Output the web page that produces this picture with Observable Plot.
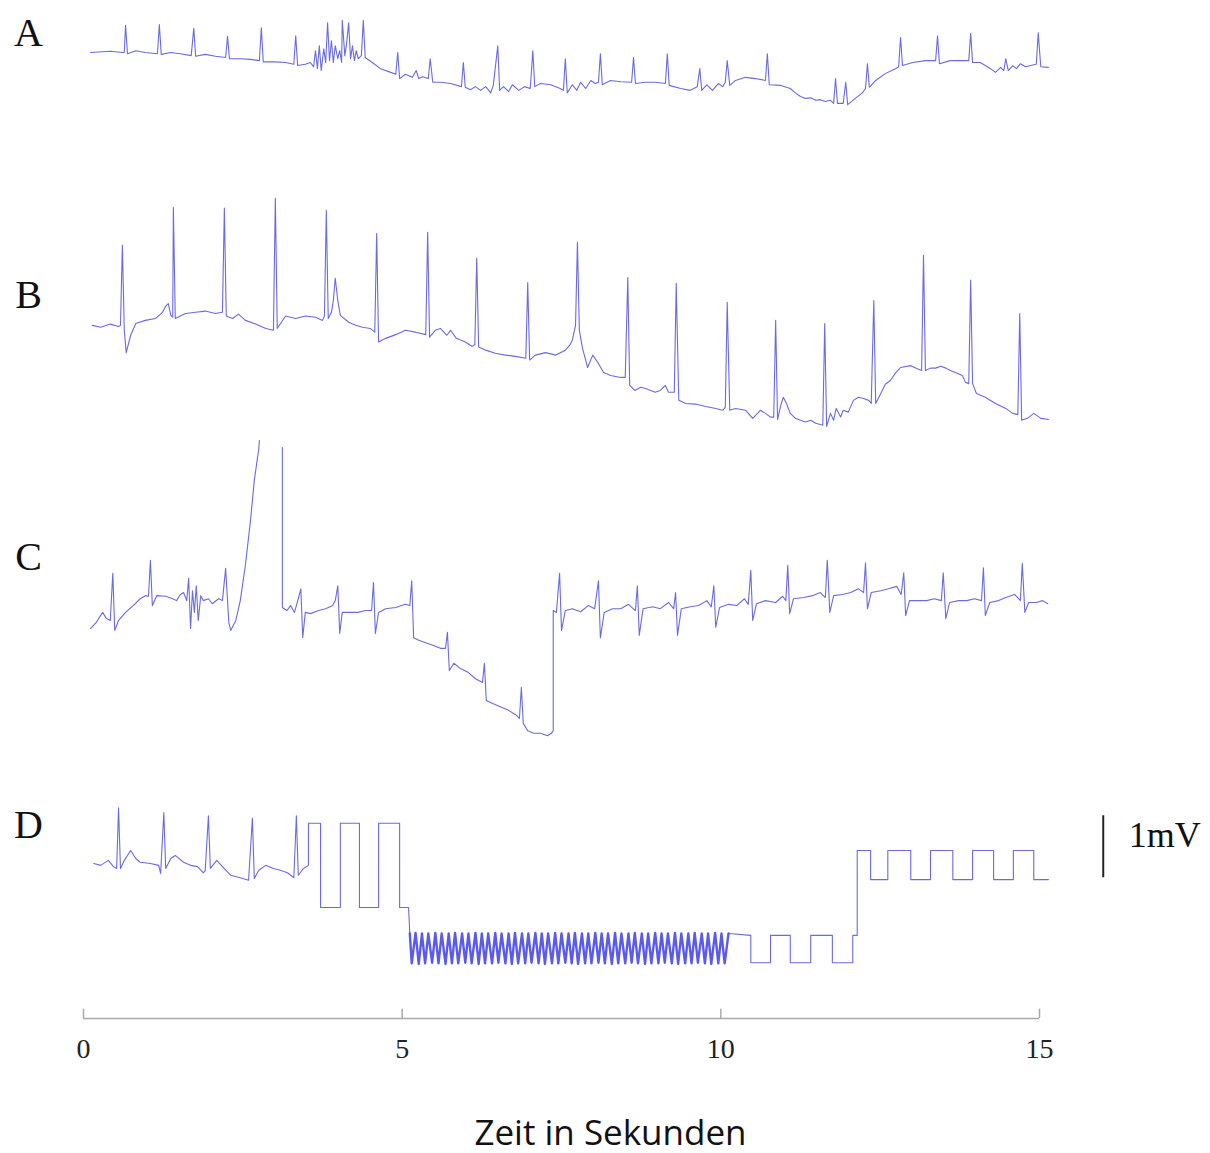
<!DOCTYPE html>
<html><head><meta charset="utf-8">
<script src="https://cdn.jsdelivr.net/npm/d3@7"></script>
<script src="https://cdn.jsdelivr.net/npm/@observablehq/plot@0.6"></script>
<style>html,body{margin:0;padding:0;background:#fff}</style>
</head><body><div id="chart"></div>
<script>
// ---- data (time in seconds, voltage in mV relative to each trace's own baseline) ----
const panels = ["A", "B", "C", "D"];
const xTicks = [0, 5, 10, 15];
const xLabel = "Zeit in Sekunden";
const scaleBarMV = 1;
const scaleBarLabel = "1mV";

const tA = [0.11,0.42,0.61,0.64,0.66,0.69,0.82,0.97,1.16,1.19,1.22,1.37,1.52,1.69,1.73,1.76,1.91,2.07,2.23,2.26,2.29,2.46,2.62,2.76,2.79,2.82,3.01,3.17,3.30,3.33,3.36,3.48,3.56,3.61,3.64,3.67,3.70,3.73,3.77,3.80,3.83,3.86,3.89,3.92,3.95,3.99,4.02,4.05,4.06,4.10,4.13,4.16,4.19,4.22,4.25,4.28,4.31,4.36,4.39,4.42,4.53,4.66,4.82,4.90,4.93,4.96,5.05,5.16,5.22,5.26,5.32,5.41,5.44,5.48,5.60,5.76,5.93,5.96,5.99,6.07,6.15,6.23,6.31,6.39,6.43,6.50,6.53,6.59,6.67,6.73,6.83,6.92,7.01,7.05,7.08,7.17,7.33,7.48,7.53,7.56,7.59,7.67,7.74,7.80,7.88,7.96,8.03,8.08,8.11,8.14,8.27,8.43,8.60,8.63,8.66,8.82,8.97,9.13,9.16,9.19,9.37,9.52,9.63,9.67,9.70,9.78,9.87,9.96,10.03,10.07,10.10,10.14,10.23,10.39,10.54,10.70,10.73,10.76,10.94,11.09,11.17,11.25,11.33,11.41,11.49,11.56,11.64,11.72,11.77,11.80,11.83,11.92,11.96,11.99,12.11,12.22,12.27,12.30,12.33,12.43,12.58,12.74,12.79,12.82,12.85,13.01,13.21,13.37,13.40,13.43,13.60,13.76,13.89,13.92,13.95,14.07,14.15,14.23,14.31,14.39,14.44,14.47,14.51,14.58,14.64,14.70,14.78,14.86,14.95,14.98,15.02,15.14];
const vA = [0,0.02,0,0,0.44,-0.02,0.03,0,-0.02,0.45,-0.03,0,-0.02,-0.05,0.39,-0.06,-0.03,-0.06,-0.08,0.26,-0.10,-0.10,-0.11,-0.13,0.40,-0.15,-0.15,-0.16,-0.19,0.27,-0.21,-0.19,-0.16,-0.23,0.03,-0.26,0.11,-0.29,0.06,-0.16,0.48,-0.13,0.19,-0.16,0.11,-0.10,0.03,-0.16,0.52,-0.05,0.16,0.48,-0.10,0.11,-0.13,0.03,-0.10,-0.05,0.52,-0.08,-0.16,-0.26,-0.32,-0.35,0,-0.42,-0.35,-0.40,-0.29,-0.42,-0.39,-0.42,-0.10,-0.48,-0.48,-0.50,-0.55,-0.16,-0.56,-0.60,-0.55,-0.61,-0.55,-0.65,-0.53,0.11,-0.61,-0.55,-0.63,-0.52,-0.61,-0.55,-0.58,0.03,-0.55,-0.50,-0.52,-0.58,-0.61,-0.10,-0.65,-0.52,-0.61,-0.48,-0.58,-0.45,-0.50,-0.48,-0.02,-0.52,-0.45,-0.47,-0.48,-0.08,-0.50,-0.48,-0.48,-0.50,-0.02,-0.53,-0.58,-0.61,-0.55,-0.26,-0.61,-0.52,-0.61,-0.50,-0.55,-0.48,-0.13,-0.53,-0.45,-0.40,-0.42,-0.45,-0.02,-0.52,-0.53,-0.58,-0.65,-0.71,-0.74,-0.73,-0.77,-0.76,-0.79,-0.77,-0.82,-0.42,-0.82,-0.82,-0.48,-0.84,-0.74,-0.65,-0.58,-0.18,-0.56,-0.45,-0.34,-0.26,-0.23,0.24,-0.21,-0.16,-0.13,-0.13,0.27,-0.18,-0.13,-0.13,-0.13,0.31,-0.16,-0.16,-0.21,-0.26,-0.32,-0.24,-0.29,-0.10,-0.29,-0.21,-0.26,-0.18,-0.23,-0.21,-0.19,0.32,-0.23,-0.24];

const tB = [0.14,0.27,0.42,0.55,0.58,0.61,0.64,0.67,0.74,0.82,0.97,1.13,1.24,1.29,1.33,1.37,1.40,1.41,1.44,1.60,1.76,1.91,2.07,2.18,2.21,2.24,2.34,2.43,2.54,2.70,2.86,2.98,3.01,3.04,3.17,3.33,3.48,3.64,3.75,3.78,3.81,3.84,3.89,3.92,3.95,3.99,4.03,4.16,4.27,4.38,4.50,4.57,4.60,4.63,4.74,4.90,5.05,5.21,5.37,5.40,5.43,5.52,5.60,5.70,5.76,5.85,5.99,6.10,6.14,6.17,6.20,6.31,6.46,6.62,6.78,6.94,6.97,7.00,7.09,7.25,7.41,7.56,7.63,7.67,7.72,7.75,7.78,7.83,7.91,7.99,8.07,8.16,8.27,8.43,8.50,8.54,8.57,8.65,8.74,8.82,8.90,8.97,9.05,9.13,9.18,9.27,9.30,9.34,9.45,9.60,9.76,9.92,10.03,10.07,10.10,10.14,10.23,10.39,10.50,10.62,10.70,10.78,10.83,10.86,10.89,10.94,10.98,11.03,11.09,11.17,11.25,11.33,11.41,11.49,11.60,11.63,11.66,11.72,11.77,11.81,11.88,11.92,12.00,12.08,12.16,12.24,12.32,12.36,12.40,12.43,12.51,12.58,12.66,12.74,12.82,12.98,13.10,13.15,13.18,13.21,13.29,13.37,13.45,13.53,13.60,13.68,13.79,13.84,13.89,13.92,13.95,14.01,14.15,14.31,14.47,14.58,14.66,14.69,14.72,14.81,14.91,15.02,15.14];
const vB = [0,-0.03,0.02,-0.02,0,1.29,-0.08,-0.44,-0.16,0.03,0.08,0.11,0.21,0.31,0.35,0.16,0.13,1.90,0.11,0.19,0.21,0.23,0.19,0.21,1.89,0.15,0.11,0.18,0.08,0.02,-0.05,-0.08,2.05,-0.05,0.15,0.11,0.15,0.13,0.08,0.15,1.85,0.11,0.21,0.40,0.76,0.40,0.16,0.05,0,-0.03,-0.05,-0.11,1.48,-0.27,-0.21,-0.15,-0.08,-0.11,-0.15,1.50,-0.19,-0.08,-0.05,-0.16,-0.08,-0.21,-0.27,-0.34,-0.31,1.08,-0.35,-0.40,-0.45,-0.48,-0.50,-0.53,0.69,-0.56,-0.48,-0.44,-0.48,-0.40,-0.32,-0.24,0,1.34,-0.08,-0.37,-0.68,-0.48,-0.60,-0.76,-0.81,-0.84,-0.84,0.77,-0.97,-1.05,-1.00,-1.02,-1.05,-1.08,-1.05,-0.97,-1.08,-1.08,0.68,-1.21,-1.26,-1.27,-1.31,-1.34,-1.37,-1.32,0.37,-1.37,-1.34,-1.37,-1.50,-1.37,-1.42,-1.48,-1.48,0.08,-1.52,-1.29,-1.16,-1.26,-1.42,-1.50,-1.53,-1.56,-1.53,-1.58,-1.61,0.03,-1.63,-1.42,-1.53,-1.34,-1.48,-1.37,-1.40,-1.21,-1.16,-1.18,-1.21,-1.26,0.40,-1.26,-1.10,-0.95,-0.89,-0.77,-0.68,-0.65,-0.71,-0.73,1.13,-0.73,-0.69,-0.69,-0.66,-0.69,-0.73,-0.76,-0.81,-0.92,-0.94,0.73,-0.94,-1.10,-1.16,-1.26,-1.34,-1.42,-1.44,0.19,-1.53,-1.50,-1.42,-1.50,-1.52];

// null = signal off the top of the display (gap in the trace)
const tC = [0.11,0.20,0.30,0.36,0.42,0.46,0.49,0.55,0.66,0.78,0.89,0.97,1.02,1.05,1.08,1.15,1.29,1.40,1.46,1.52,1.57,1.62,1.65,1.68,1.71,1.74,1.77,1.80,1.84,1.88,1.96,2.02,2.12,2.18,2.23,2.28,2.31,2.39,2.46,2.54,2.62,2.68,2.75,2.76,2.90,3.12,3.12,3.19,3.25,3.31,3.37,3.41,3.44,3.48,3.56,3.69,3.80,3.91,3.95,3.99,4.02,4.06,4.19,4.31,4.42,4.52,4.55,4.58,4.63,4.74,4.90,5.05,5.12,5.15,5.18,5.26,5.37,5.48,5.60,5.68,5.71,5.74,5.81,5.92,6.04,6.15,6.26,6.29,6.32,6.42,6.54,6.67,6.78,6.84,6.87,6.90,6.97,7.06,7.17,7.28,7.34,7.37,7.37,7.42,7.47,7.50,7.56,7.67,7.80,7.92,8.02,8.08,8.11,8.17,8.30,8.43,8.55,8.66,8.69,8.72,8.78,8.93,9.05,9.18,9.26,9.29,9.32,9.38,9.52,9.65,9.78,9.85,9.89,9.92,9.98,10.12,10.25,10.37,10.43,10.47,10.50,10.56,10.70,10.86,10.97,11.02,11.05,11.08,11.14,11.30,11.44,11.56,11.64,11.67,11.71,11.77,11.91,12.04,12.16,12.24,12.27,12.30,12.36,12.51,12.63,12.76,12.83,12.87,12.90,12.96,13.10,13.23,13.35,13.46,13.49,13.53,13.59,13.73,13.86,13.98,14.09,14.12,14.15,14.22,14.36,14.47,14.61,14.70,14.73,14.77,14.83,14.95,15.05,15.13];
const vC = [-0.29,-0.19,-0.03,-0.13,-0.16,0.60,-0.32,-0.16,-0.03,0.08,0.19,0.24,0.23,0.81,0.08,0.24,0.23,0.19,0.16,0.26,0.29,0.16,0.52,-0.29,0.32,-0.03,0.40,-0.16,0.24,0.16,0.19,0.11,0.19,0.16,0.68,-0.19,-0.32,-0.16,0.16,0.73,1.45,2.10,2.61,2.74,null,2.63,0.05,0,0.08,-0.03,0.19,0.35,-0.44,-0.03,-0.05,0,0.03,0.08,0.16,0.40,-0.37,-0.03,-0.03,-0.03,0,0,0.45,-0.37,-0.03,0.03,0.05,0.10,0.08,0.48,-0.44,-0.48,-0.52,-0.56,-0.61,-0.61,-0.35,-0.97,-0.85,-0.94,-1.00,-1.10,-1.16,-0.85,-1.45,-1.50,-1.55,-1.61,-1.68,-1.74,-1.24,-1.82,-1.94,-1.98,-1.98,-2.02,-1.98,-1.94,0,-0.03,0.60,-0.32,0,0.03,-0.02,0.08,0.03,0.48,-0.44,-0.03,0.03,0.03,0.10,0,0.40,-0.40,0.03,0.06,0.03,0.13,0.03,0.29,-0.40,0.03,0.06,0.08,0.16,0.06,0.40,-0.27,0.05,0.10,0.08,0.19,0.10,0.65,-0.16,0.11,0.16,0.13,0.23,0.16,0.73,-0.05,0.19,0.21,0.24,0.29,0.21,0.81,-0.03,0.24,0.26,0.29,0.35,0.29,0.77,0.03,0.29,0.32,0.35,0.39,0.26,0.61,-0.08,0.16,0.16,0.16,0.19,0.16,0.61,-0.13,0.13,0.16,0.16,0.19,0.16,0.69,-0.08,0.13,0.16,0.21,0.26,0.16,0.76,-0.03,0.13,0.13,0.16,0.11];

const tD = [0.16,0.27,0.39,0.47,0.52,0.55,0.58,0.64,0.74,0.82,0.89,1.05,1.18,1.21,1.26,1.29,1.37,1.44,1.57,1.68,1.79,1.88,1.91,1.96,1.99,2.09,2.18,2.31,2.46,2.59,2.65,2.68,2.75,2.86,2.98,3.09,3.20,3.30,3.34,3.37,3.45,3.53,3.53,3.72,3.72,4.03,4.03,4.33,4.33,4.63,4.63,4.96,4.96,5.10,5.12];
const vD = [0,-0.03,0.05,-0.05,-0.08,0.90,-0.08,0.05,0.21,0.08,0.02,0,-0.03,-0.16,0.82,-0.08,0.08,0.13,0.02,-0.03,-0.05,-0.15,-0.11,0.77,-0.08,0.05,-0.05,-0.19,-0.23,-0.27,0.73,-0.24,-0.11,-0.03,-0.08,-0.11,-0.15,-0.23,0.77,-0.19,-0.08,-0.03,0.65,0.65,-0.71,-0.71,0.65,0.65,-0.71,-0.71,0.65,0.65,-0.71,-0.71,-1.13];
// dense stimulation artefact in trace D
const tStim = [5.12,5.15,5.21,5.26,5.31,5.36,5.41,5.47,5.52,5.57,5.62,5.68,5.73,5.78,5.83,5.88,5.94,5.99,6.04,6.09,6.15,6.20,6.25,6.30,6.35,6.41,6.46,6.51,6.56,6.62,6.67,6.72,6.77,6.82,6.88,6.93,6.98,7.03,7.09,7.14,7.19,7.24,7.29,7.35,7.40,7.45,7.50,7.56,7.61,7.66,7.71,7.76,7.82,7.87,7.92,7.97,8.03,8.08,8.13,8.18,8.23,8.29,8.34,8.39,8.44,8.50,8.55,8.60,8.65,8.70,8.76,8.81,8.86,8.91,8.97,9.02,9.07,9.12,9.17,9.23,9.28,9.33,9.38,9.44,9.49,9.54,9.59,9.64,9.70,9.75,9.80,9.85,9.91,9.96,10.01,10.06,10.12];
const vStim = [-1.13,-1.61,-1.12,-1.62,-1.13,-1.61,-1.13,-1.60,-1.12,-1.61,-1.13,-1.62,-1.13,-1.61,-1.12,-1.61,-1.13,-1.60,-1.13,-1.61,-1.12,-1.62,-1.13,-1.61,-1.13,-1.61,-1.12,-1.60,-1.13,-1.61,-1.13,-1.62,-1.12,-1.61,-1.13,-1.61,-1.13,-1.60,-1.12,-1.61,-1.13,-1.62,-1.13,-1.61,-1.12,-1.61,-1.13,-1.60,-1.13,-1.61,-1.12,-1.62,-1.13,-1.61,-1.13,-1.61,-1.12,-1.60,-1.13,-1.61,-1.13,-1.62,-1.12,-1.61,-1.13,-1.61,-1.13,-1.60,-1.12,-1.61,-1.13,-1.62,-1.13,-1.61,-1.12,-1.61,-1.13,-1.60,-1.13,-1.61,-1.12,-1.62,-1.13,-1.61,-1.13,-1.61,-1.12,-1.60,-1.13,-1.61,-1.13,-1.62,-1.12,-1.61,-1.13,-1.61,-1.13];
const tD2 = [10.12,10.47,10.47,10.78,10.78,11.09,11.09,11.41,11.41,11.75,11.75,12.07,12.07,12.14,12.14,12.35,12.35,12.62,12.62,12.98,12.98,13.29,13.29,13.64,13.64,13.95,13.95,14.28,14.28,14.59,14.59,14.91,14.91,15.14];
const vD2 = [-1.13,-1.16,-1.60,-1.60,-1.16,-1.16,-1.60,-1.60,-1.16,-1.16,-1.60,-1.60,-1.16,-1.16,0.21,0.21,-0.26,-0.26,0.21,0.21,-0.26,-0.26,0.21,0.21,-0.26,-0.26,0.21,0.21,-0.26,-0.26,0.21,0.21,-0.26,-0.26];

// ---- layout (vertical stacking of the traces, in mV on a shared scale) ----
const offsets = {A: 15.58, B: 11.18, C: 6.58, D: 2.50};
const labelY = {A: 15.90, B: 11.66, C: 7.44, D: 3.11};
const traceColor = "#5a5ae0";
const stimColor = "#4848ee";
const axisColor = "#a9a9a9";

const rows = (ts, vs, off) => ts.map((t, i) => ({t, v: vs[i] == null ? NaN : off + vs[i]}));
const traces = [
  rows(tA, vA, offsets.A),
  rows(tB, vB, offsets.B),
  rows(tC, vC, offsets.C),
  rows(tD, vD, offsets.D),
  rows(tD2, vD2, offsets.D)
];
const stim = rows(tStim, vStim, offsets.D);

const plot = Plot.plot({
  width: 1210, height: 1153,
  marginLeft: 83, marginRight: 171, marginTop: 0, marginBottom: 135,
  x: {domain: [0, 15]},
  y: {domain: [0, 1018 / 62], axis: null},
  style: {background: "#fff", overflow: "visible"},
  marks: [
    Plot.ruleY([0], {x1: 0, x2: 15, stroke: axisColor, strokeWidth: 1.5}),
    Plot.ruleX(xTicks, {x: d => d, y1: 0, y2: 0.15, stroke: axisColor, strokeWidth: 1.5}),
    Plot.axisX({ticks: xTicks, tickSize: 0, tickPadding: 20, fontSize: 28, fontFamily: "Liberation Serif", fill: "#222", label: null, tickFormat: d => String(d)}),
    ...traces.map(tr => Plot.line(tr, {x: "t", y: "v", stroke: traceColor, strokeWidth: 1.1, strokeOpacity: 0.9})),
    Plot.line(stim, {x: "t", y: "v", stroke: stimColor, strokeWidth: 2.4, strokeOpacity: 0.9}),
    Plot.text(panels, {frameAnchor: "left", dx: -55, textAnchor: "middle", y: d => labelY[d], text: d => d, fontSize: 40, fontFamily: "Liberation Serif", fill: "#111"}),
    Plot.ruleX([scaleBarMV], {x: 16.0, y1: 2.27, y2: d => 2.27 + d, stroke: "#222", strokeWidth: 2}),
    Plot.text([scaleBarLabel], {x: 16.4, y: 2.95, text: d => d, textAnchor: "start", fontSize: 36, fontFamily: "Liberation Serif", fill: "#111"}),
    Plot.text([xLabel], {frameAnchor: "bottom", dx: 49, dy: 115, lineAnchor: "middle", text: d => d, fontSize: 35, fontFamily: "Open Sans", fill: "#111"})
  ]
});
document.getElementById("chart").appendChild(plot);
</script>
</body></html>
